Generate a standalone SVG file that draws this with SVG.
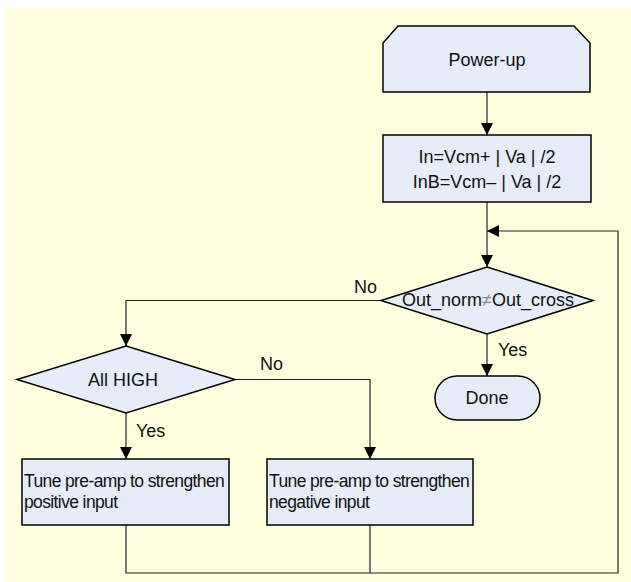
<svg xmlns="http://www.w3.org/2000/svg" width="631" height="582" viewBox="0 0 631 582">
<style>
.node{fill:#E6ECF8;stroke:#000;stroke-width:1.5}
.t{font-family:"Liberation Sans",Arial,sans-serif;font-size:18px;fill:#111}
.c{text-anchor:middle}
.tn{font-family:"Liberation Sans",Arial,sans-serif;font-size:17.5px;fill:#111;letter-spacing:-0.62px}
.ln{fill:none;stroke:#222;stroke-width:1.2}
</style>
<defs>
<marker id="arr" markerUnits="userSpaceOnUse" markerWidth="14" markerHeight="14" viewBox="0 0 14 14" refX="13" refY="7" orient="auto">
<path d="M1,1 L13,7 L1,13 Z" fill="#000"/>
</marker>
</defs>
<rect x="0" y="0" width="631" height="582" fill="#fff"/>
<rect x="4" y="8" width="627" height="574" fill="#FFFFE0"/>
<g id="connectors">
<path class="ln" d="M487,92 V135" marker-end="url(#arr)"/>
<path class="ln" d="M487,202 V267" marker-end="url(#arr)"/>
<path class="ln" d="M126,525 V573 H618 V231 H487" marker-end="url(#arr)"/>
<path class="ln" d="M370,525 V573"/>
<path class="ln" d="M381,300.5 H126 V346" marker-end="url(#arr)"/>
<path class="ln" d="M487,334 V376" marker-end="url(#arr)"/>
<path class="ln" d="M235,379.5 H370 V459" marker-end="url(#arr)"/>
<path class="ln" d="M126,413 V459" marker-end="url(#arr)"/>
<text class="t" x="354" y="293">No</text>
<text class="t" x="498" y="356">Yes</text>
<text class="t" x="260" y="370">No</text>
<text class="t" x="136" y="437">Yes</text>
</g>
<g id="powerup">
<path class="node" d="M398,26 H574 L590,43 V92 H383 V43 Z"/>
<text class="t c" x="487" y="66">Power-up</text>
</g>
<g id="init">
<rect class="node" x="383" y="135" width="208" height="67"/>
<text class="t c" x="487" y="163">In=Vcm+ | Va | /2</text>
<text class="t c" x="487" y="188">InB=Vcm– | Va | /2</text>
</g>
<g id="compare">
<path class="node" d="M487,267 L593,300.5 L487,334 L381,300.5 Z"/>
<text class="t c" x="488" y="306">Out_norm<tspan fill="#888">≠</tspan>Out_cross</text>
</g>
<g id="done">
<rect class="node" x="435" y="376" width="105" height="44" rx="22" ry="22"/>
<text class="t c" x="487" y="404">Done</text>
</g>
<g id="allhigh">
<path class="node" d="M126,346 L235,379.5 L126,413 L17,379.5 Z"/>
<text class="t c" x="123" y="386">All HIGH</text>
</g>
<g id="tunepos">
<rect class="node" x="22" y="459" width="207" height="66"/>
<text class="tn" x="24" y="487">Tune pre-amp to strengthen</text>
<text class="tn" x="24" y="508">positive input</text>
</g>
<g id="tuneneg">
<rect class="node" x="267" y="459" width="206" height="66"/>
<text class="tn" x="269" y="487">Tune pre-amp to strengthen</text>
<text class="tn" x="269" y="508">negative input</text>
</g>
</svg>
